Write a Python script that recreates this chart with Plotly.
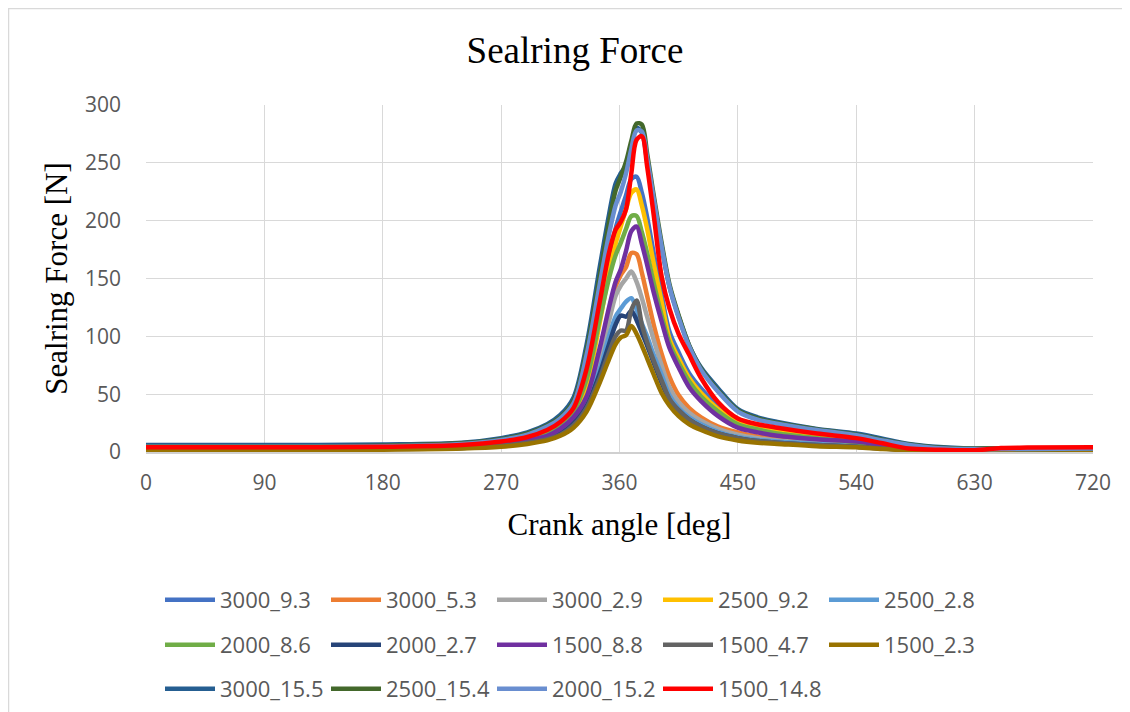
import plotly.graph_objects as go

# Crank angle [deg]
angle = [0, 90, 180, 240, 270, 290, 305, 315, 325, 335, 345, 352, 357, 361, 365, 369, 373, 377,
         381, 386, 392, 398, 405, 413, 422, 435, 450, 465, 480, 510, 540, 560, 580, 600, 630,
         650, 670, 720]

names = ["3000_9.3", "3000_5.3", "3000_2.9", "2500_9.2", "2500_2.8",
         "2000_8.6", "2000_2.7", "1500_8.8", "1500_4.7", "1500_2.3",
         "3000_15.5", "2500_15.4", "2000_15.2", "1500_14.8"]

colors = ["#4472C4", "#ED7D31", "#A5A5A5", "#FFC000", "#5B9BD5",
          "#70AD47", "#264478", "#7030A0", "#636363", "#997300",
          "#255E91", "#43682B", "#698ED0", "#FF0000"]

f_3000_9_3 = [3.5, 3.5, 4, 5, 8, 12, 17, 23, 35, 64, 122, 168, 193, 208, 222, 236, 238, 224,
              203, 172, 136, 104, 86, 68, 55, 40, 28, 23, 19.5, 14, 10, 7, 4, 2.5, 2, 2, 2, 2.5]
f_3000_5_3 = [3, 3, 3.5, 4.5, 7, 10, 14, 19, 29, 50, 88, 120, 143, 153, 160, 172, 171, 155,
              135, 110, 85, 65, 49, 38, 30, 22, 17, 13.5, 11, 9, 7, 4.5, 2.5, 2, 1.5, 1.5, 1.5, 2]
f_3000_2_9 = [2.5, 2.5, 3, 4, 6.5, 9.5, 13, 18, 28, 47, 82, 113, 135, 144, 150, 156, 147, 133,
              117, 97, 75, 56, 43, 34, 27, 20, 15, 12, 10, 8, 6, 4, 2.5, 1.5, 1.5, 1.5, 1.5, 2]
f_2500_9_2 = [3, 3, 3.5, 4.5, 7.5, 11, 16, 22, 33, 58, 112, 155, 180, 195, 210, 224, 227, 213,
              193, 163, 130, 98, 81, 64, 51, 37, 26, 21, 17.5, 13, 9.5, 6.5, 3.5, 2.5, 2, 2, 2, 2.5]
f_2500_2_8 = [2.5, 2.5, 3, 4, 6, 9, 12, 17, 26, 43, 72, 100, 117, 124, 130, 133, 123, 111,
              100, 84, 67, 49, 38, 30, 24, 17.5, 13, 10.5, 9, 7, 5, 3.5, 2.5, 2, 2, 2, 2, 2.5]
f_2000_8_6 = [3, 3, 3.5, 5, 8, 12, 17, 23, 35, 63, 115, 150, 170, 181, 193, 204, 204, 190,
              172, 146, 118, 94, 77, 61, 48, 35, 24, 19.5, 16, 12, 8.5, 6, 3.5, 2.5, 2, 2, 2, 2.5]
f_2000_2_7 = [2.5, 2.5, 2.8, 3.5, 5.5, 8.5, 11.5, 16, 25, 40, 68, 93, 110, 118, 117, 122, 114, 103,
              92, 77, 60, 45, 36, 28, 22, 16, 12, 9.5, 8, 6, 4.5, 3, 2, 1.5, 1.5, 1.5, 1.5, 2]
f_1500_8_8 = [2.5, 2.5, 3, 4.5, 7, 10, 14, 20, 30, 48, 90, 125, 147, 158, 174, 191, 195, 180,
              162, 138, 113, 90, 73, 56, 44, 31, 21, 17, 14, 11, 9, 6, 3, 2, 1.5, 1.5, 1.5, 2]
f_1500_4_7 = [2, 2, 2.5, 3.5, 5.5, 8, 11, 15, 23, 38, 64, 86, 100, 105, 105, 123, 131, 110,
              95, 79, 62, 46, 36, 28, 22, 16, 12, 9.5, 8, 6, 4.5, 3, 2, 1.5, 1.5, 1.5, 1.5, 2]
f_1500_2_3 = [1.5, 1.5, 2, 3, 4.5, 7, 10, 14, 21, 35, 60, 80, 93, 99, 101, 109, 102, 92,
              81, 67, 51, 40, 31, 24, 19, 13.5, 10, 8, 7, 5, 4, 2.5, 1.5, 1, 1, 1, 1, 1.5]
f_3000_15_5 = [6, 6, 6.5, 8, 12, 17, 24, 32, 47, 93, 160, 205, 232, 241, 248, 265, 280, 276,
               252, 218, 178, 143, 117, 92, 73, 55, 37, 30, 26, 20, 16, 11.5, 7, 4.5, 3, 3, 3, 3]
f_2500_15_4 = [5, 5, 5.5, 7.5, 11, 16, 23, 30, 44, 88, 152, 198, 226, 238, 251, 269, 284, 283,
               258, 222, 181, 145, 118, 92, 72, 53, 36, 29, 25, 19.5, 15, 10.5, 6.5, 4, 3, 3, 2.5, 3]
f_2000_15_2 = [4.5, 4.5, 5, 7, 10.5, 15, 22, 29, 42, 84, 145, 188, 213, 225, 241, 262, 278, 277,
               254, 219, 178, 143, 116, 91, 71, 52, 35, 28, 24.5, 19, 14.5, 10, 6, 3.5, 2.5, 2.5, 2.5, 3]
f_1500_14_8 = [4, 4, 4.5, 6, 9, 13, 19, 26, 38, 72, 130, 172, 192, 199, 210, 241, 270, 273,
               247, 205, 152, 124, 102, 84, 64, 43, 29, 24, 21, 16, 12, 7.5, 3, 2, 1.5, 3.5, 3.8, 4]

series = [f_3000_9_3, f_3000_5_3, f_3000_2_9, f_2500_9_2, f_2500_2_8,
          f_2000_8_6, f_2000_2_7, f_1500_8_8, f_1500_4_7, f_1500_2_3,
          f_3000_15_5, f_2500_15_4, f_2000_15_2, f_1500_14_8]

x_ticks = [0, 90, 180, 270, 360, 450, 540, 630, 720]
y_ticks = [0, 50, 100, 150, 200, 250, 300]

# page is offset by 8 px (body margin)
OFF = 8
W, H = 1122, 704
L, T = 146 - OFF, 105 - OFF
R = W - (1093 - OFF)
B = H - (452 - OFF)
pw, ph = W - L - R, H - T - B


def px_x(page_x):
    return (page_x - OFF - L) / pw


def px_y(page_y):
    return (H - B - (page_y - OFF)) / ph


fig = go.Figure()
legend_ids = ["legend"] * 5 + ["legend2"] * 5 + ["legend3"] * 4
for nm, col, vals, lg in zip(names, colors, series, legend_ids):
    fig.add_trace(go.Scatter(
        x=angle, y=vals, name=nm, mode="lines",
        line=dict(color=col, width=4.5, shape="spline", smoothing=0.9),
        legend=lg,
    ))

tick_font = dict(family="Open Sans", size=21, color="#595959")
leg_font = dict(family="Open Sans", size=22, color="#595959")
leg_common = dict(orientation="h", xanchor="left", yanchor="middle",
                  font=leg_font, entrywidth=101, entrywidthmode="pixels",
                  itemwidth=50, bgcolor="rgba(0,0,0,0)")

fig.update_layout(
    width=W, height=H,
    margin=dict(l=L, r=R, t=T, b=B, autoexpand=False),
    paper_bgcolor="white", plot_bgcolor="white",
    showlegend=True,
    title=dict(text="Sealring Force", font=dict(family="Liberation Serif", size=37, color="black"),
               xref="container", yref="container", x=567 / W, y=1 - 42 / H,
               xanchor="center", yanchor="middle"),
    xaxis=dict(range=[0, 720], tickvals=x_ticks, ticktext=[str(v) for v in x_ticks],
               showgrid=True, gridcolor="#D9D9D9", gridwidth=1,
               showline=True, linecolor="#D0D0D0", linewidth=2, zeroline=False,
               ticks="", tickfont=tick_font, ticklabelstandoff=11,
               title=dict(text="Crank angle [deg]",
                          font=dict(family="Liberation Serif", size=31, color="black"),
                          standoff=18)),
    yaxis=dict(range=[0, 300], tickvals=y_ticks, ticktext=[str(v) for v in y_ticks],
               showgrid=True, gridcolor="#D9D9D9", gridwidth=1,
               showline=False, zeroline=False,
               ticks="", tickfont=tick_font, ticklabelstandoff=24,
               title=dict(text="Sealring Force [N]",
                          font=dict(family="Liberation Serif", size=31, color="black"),
                          standoff=8)),
    legend=dict(x=px_x(160), y=px_y(600), **leg_common),
    legend2=dict(x=px_x(160), y=px_y(645), **leg_common),
    legend3=dict(x=px_x(160), y=px_y(689), **leg_common),
    shapes=[dict(type="rect", xref="paper", yref="paper",
                 x0=px_x(8.5), x1=px_x(1160), y0=px_y(8.5), y1=px_y(760),
                 line=dict(color="#D9D9D9", width=1.5), fillcolor="rgba(0,0,0,0)",
                 layer="below")],
)

fig.write_html("out.html")
